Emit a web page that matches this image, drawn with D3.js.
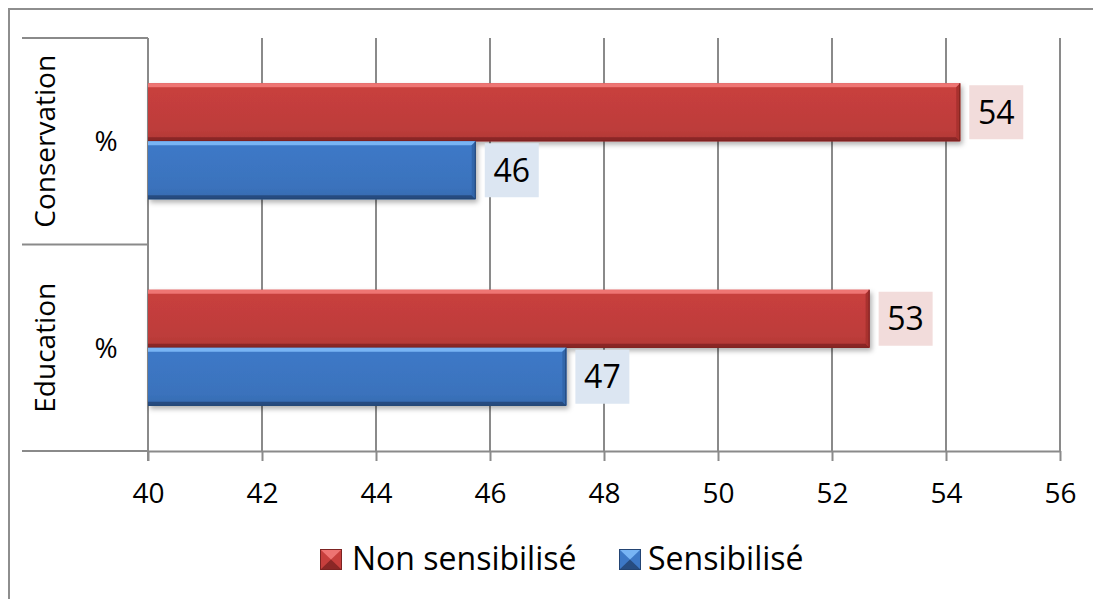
<!DOCTYPE html>
<html>
<head>
<meta charset="utf-8">
<script src="https://cdn.jsdelivr.net/npm/d3@7"></script>
<style>
  html, body { margin: 0; padding: 0; background: #fff; }
  svg { display: block; font-family: "Open Sans", sans-serif; }
</style>
</head>
<body>
<svg id="chart" width="1093" height="599"></svg>
<script>
// Categories (top to bottom) and their inner level label
const categories = ["Conservation", "Education"];
const innerLabel = "%";

// Series
const seriesNames = ["Non sensibilisé", "Sensibilisé"];
const nonSensibilise = [54.25, 52.66];
const sensibilise = [45.75, 47.34];

// Value axis
const xTicks = [40, 42, 44, 46, 48, 50, 52, 54, 56];

const palette = {
  "Non sensibilisé": { light: "#ee7473", main: "#c73f3d", dark: "#8a2726", edge: "#a8312f", box: "#f2dcdb" },
  "Sensibilisé":     { light: "#78b4f4", main: "#3d78c6", dark: "#274c80", edge: "#3266aa", box: "#dce6f2" }
};

const svg = d3.select("#chart");
const defs = svg.append("defs");

// Soft shadow under bars
const shadow = defs.append("filter").attr("id", "barShadow")
  .attr("x", "-5%").attr("y", "-20%").attr("width", "115%").attr("height", "160%");
shadow.append("feDropShadow")
  .attr("dx", 2).attr("dy", 3).attr("stdDeviation", 2.5)
  .attr("flood-color", "#000").attr("flood-opacity", 0.3);

// Vertical body gradients
seriesNames.forEach((s, i) => {
  const c = palette[s];
  const g = defs.append("linearGradient").attr("id", "body" + i)
    .attr("x1", 0).attr("y1", 0).attr("x2", 0).attr("y2", 1);
  [[0, c.main], [0.15, c.main], [0.8, d3.color(c.main).darker(0.15)], [1, d3.color(c.main).darker(0.35)]]
    .forEach(([o, col]) => g.append("stop").attr("offset", o).attr("stop-color", col));
});

const x = d3.scaleLinear().domain([40, 56]).range([148, 1060]);
const y = d3.scaleBand().domain(categories).range([38, 451]).paddingInner(0).paddingOuter(0);
const ySeries = d3.scaleBand().domain(seriesNames).range([0, y.bandwidth()])
  .paddingInner(0).paddingOuter(0.78);

const gridColor = "#8a8a8a";

// Outer frame
svg.append("path").attr("d", "M9,599V9H1093")
  .attr("fill", "none").attr("stroke", "#8e8e8e").attr("stroke-width", 2);

// Vertical gridlines
svg.append("g").selectAll("line").data(xTicks.slice(1)).join("line")
  .attr("x1", d => x(d)).attr("x2", d => x(d))
  .attr("y1", 38).attr("y2", 451)
  .attr("stroke", gridColor).attr("stroke-width", 2);

// Category axis: vertical line and separators
svg.append("line").attr("x1", x(40)).attr("x2", x(40)).attr("y1", 38).attr("y2", 461)
  .attr("stroke", gridColor).attr("stroke-width", 2);
const seps = [y.range()[0], y(categories[1]), y.range()[1]];
svg.append("g").selectAll("line").data(seps).join("line")
  .attr("x1", 22).attr("x2", x(40))
  .attr("y1", d => d).attr("y2", d => d)
  .attr("stroke", gridColor).attr("stroke-width", 2);

// Value axis
const xAxis = svg.append("g").attr("transform", "translate(0,451)")
  .call(d3.axisBottom(x).tickValues(xTicks).tickSizeInner(10).tickSizeOuter(0).tickPadding(22));
xAxis.select(".domain").attr("stroke", gridColor).attr("stroke-width", 2);
xAxis.selectAll(".tick line").attr("stroke", gridColor).attr("stroke-width", 2);
xAxis.selectAll(".tick text").attr("font-size", 28).attr("fill", "#000")
  .attr("font-family", "'Open Sans', sans-serif");

// Category labels
const catG = svg.append("g").selectAll("g").data(categories).join("g");
catG.append("text")
  .attr("transform", d => `translate(45,${y(d) + y.bandwidth() / 2}) rotate(-90)`)
  .attr("text-anchor", "middle").attr("dy", "0.36em")
  .attr("font-size", 28).attr("fill", "#000")
  .text(d => d);
catG.append("text")
  .attr("x", 106).attr("y", d => y(d) + y.bandwidth() / 2)
  .attr("text-anchor", "middle").attr("dy", "0.36em")
  .attr("font-size", 28).attr("fill", "#000")
  .text(innerLabel);

// Bars
const rows = [];
categories.forEach((cat, ci) => {
  rows.push({ cat, series: seriesNames[0], si: 0, value: nonSensibilise[ci] });
  rows.push({ cat, series: seriesNames[1], si: 1, value: sensibilise[ci] });
});

const bev = 4;
const barG = svg.append("g").selectAll("g").data(rows).join("g")
  .attr("filter", "url(#barShadow)");

barG.each(function(d) {
  const g = d3.select(this);
  const c = palette[d.series];
  const x0 = x(40), x1 = x(d.value);
  const y0 = y(d.cat) + ySeries(d.series), h = ySeries.bandwidth(), y1 = y0 + h;
  g.append("rect").attr("x", x0).attr("y", y0).attr("width", x1 - x0).attr("height", h)
    .attr("fill", `url(#body${d.si})`);
  // top bevel
  g.append("path").attr("d", `M${x0},${y0}H${x1}L${x1 - bev},${y0 + bev}H${x0}Z`).attr("fill", c.light);
  // bottom bevel
  g.append("path").attr("d", `M${x0},${y1}H${x1}L${x1 - bev},${y1 - bev}H${x0}Z`).attr("fill", c.dark);
  // right bevel
  g.append("path").attr("d", `M${x1},${y0}V${y1}L${x1 - bev},${y1 - bev}V${y0 + bev}Z`).attr("fill", c.edge);
  // thin outline on the lower/right edge
  g.append("path").attr("d", `M${x0},${y1 - 0.5}H${x1 - 0.5}V${y0}`)
    .attr("fill", "none").attr("stroke", d3.color(c.dark).darker(0.3)).attr("stroke-width", 1);
});

// Value labels
const fmt = d3.format(".0f");
const labG = svg.append("g").selectAll("g").data(rows).join("g")
  .attr("transform", d => `translate(${x(d.value) + 9},${y(d.cat) + ySeries(d.series) + ySeries.bandwidth() / 2})`);
labG.append("rect").attr("x", 0).attr("y", -27).attr("width", 54).attr("height", 54)
  .attr("fill", d => palette[d.series].box);
labG.append("text").attr("x", 27).attr("y", 0).attr("dy", "0.36em")
  .attr("text-anchor", "middle").attr("font-size", 32).attr("fill", "#000")
  .text(d => fmt(d.value));

// Legend
const legendPos = [{ sx: 320, tx: 352 }, { sx: 619, tx: 648 }];
const leg = svg.append("g").selectAll("g").data(seriesNames).join("g");
leg.each(function(s, i) {
  const g = d3.select(this);
  const c = palette[s];
  const sx = legendPos[i].sx, sy = 549, w = 22, h = 21;
  g.append("rect").attr("x", sx).attr("y", sy).attr("width", w).attr("height", h).attr("fill", c.main);
  g.append("path").attr("d", `M${sx},${sy}H${sx + w}L${sx + w / 2},${sy + h / 2}Z`).attr("fill", c.light);
  g.append("path").attr("d", `M${sx},${sy + h}H${sx + w}L${sx + w / 2},${sy + h / 2}Z`).attr("fill", c.dark);
  g.append("rect").attr("x", sx + 0.5).attr("y", sy + 0.5).attr("width", w - 1).attr("height", h - 1)
    .attr("fill", "none").attr("stroke", d3.color(c.dark).darker(0.3)).attr("stroke-width", 1);
  g.append("text").attr("x", legendPos[i].tx).attr("y", 570)
    .attr("font-size", 32).attr("fill", "#000").text(s);
});
</script>
</body>
</html>
